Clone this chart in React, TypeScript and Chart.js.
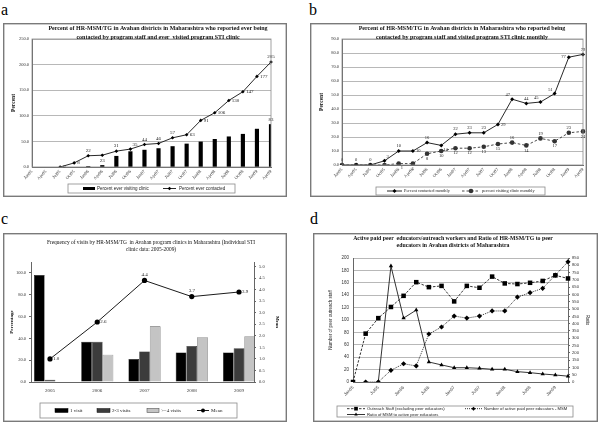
import React, { useEffect, useRef } from "react";
import { Chart, registerables } from "chart.js";

Chart.register(...registerables);

const SERIF = '"Liberation Serif", "Times New Roman", serif';
const SANS = '"Liberation Sans", Arial, sans-serif';

// ---------------- shared categories ----------------
const quarterLabels = ["Jan05", "Apr05", "Jul05", "Oct05", "Jan06", "Apr06", "Jul06", "Oct06", "Jan07", "Apr07", "Jul07", "Oct07", "Jan08", "Apr08", "Jul08", "Oct08", "Jan09", "Apr09"];

// ---------------- panel a ----------------
const aTitle = ["Percent of HR-MSM/TG in Avahan districts in Maharashtra who reported ever being", "contacted by program staff and ever  visited program STI clinic"];
const aVisitedLabel = "Percent ever visiting clinic";
const aContactedLabel = "Percent ever contacted";
const aVisited = [null, null, null, null, 1, 3, 21, 30, 33, 36, 40, 45, 49, 54, 59, 64, 74, 83];
const aContacted = [null, null, 0, 8, 22, 23, 31, 35, 44, 46, 57, 63, 91, 106, 130, 147, 177, 205];
const aAxisTitle = "Percent";
const aContactedPlace = ["", "", "r", "r", "a", "b", "a", "ar", "a", "a", "a", "r", "r", "r", "r", "r", "r", "a"];
const aVisitedPlace = ["", "", "", "", "", "", "", "", "", "", "", "", "", "", "", "", "", "a"];

// ---------------- panel b ----------------
const bTitle = ["Percent of HR-MSM/TG in Avahan districts in Maharashtra who reported being", "contacted by program staff and visited program STI clinic monthly"];
const bContactedLabel = "Percent contacted monthly";
const bVisitingLabel = "percent visiting clinic monthly";
const bContacted = [0, 0, 0, 3, 10, 10, 16, 14, 22, 23, 23, 29, 47, 44, 45, 51, 77, 79];
const bVisiting = [0, 0, 0, 0, 1, 1, 8, 10, 12, 12, 13, 15, 16, 14, 19, 17, 23, 24];
const bAxisTitle = "Percent";
const bContactedPlace = ["a", "a", "a", "ar", "a", "r", "a", "br", "a", "a", "a", "r", "al", "a", "al", "al", "l", "a"];
const bVisitingPlace = ["", "", "", "", "br", "b", "b", "b", "b", "b", "b", "b", "a", "b", "a", "b", "a", "b"];

// ---------------- panel c ----------------
const cTitle = ["Frequency of visits by HR-MSM/TG  in Avahan program clinics in Maharashtra (Individual STI", "clinic data: 2005-2009)"];
const cYears = ["2005", "2006", "2007", "2008", "2009"];
const cOneVisit = [98, 37, 21, 27, 27];
const cTwoThree = [2, 37, 28, 33, 31];
const cFourPlus = [0, 25, 51, 41, 42];
const cMean = [1.0, 2.6, 4.4, 3.7, 3.9];
const cSeriesLabels = ["1 visit", "2-3 visits", ">=4 visits", "Mean"];
const cLeftTicks = [0, 20, 40, 60, 80, 100];
const cRightTicks = [0, 0.5, 1, 1.5, 2, 2.5, 3, 3.5, 4, 4.5, 5];
const cLeftTitle = "Percentage";
const cRightTitle = "Mean";
const cMeanPlace = ["r", "r", "a", "a", "r"];

// ---------------- panel d ----------------
const dTitle = ["Active paid peer  educators/outreach workers and Ratio of HR-MSM/TG to peer", "educators in Avahan districts of Maharashtra"];
const dOutreach = [0, 78, 103, 121, 139, 161, 153, 155, 130, 155, 152, 170, 159, 158, 160, 163, 172, 167];
const dPeer = [null, 0, 0, 80, 125, 110, 329, 377, 452, 438, 452, 487, 487, 582, 612, 642, 733, 824];
const dRatio = [null, null, 0, 795, 438, 493, 137, 117, 98, 98, 94, 87, 87, 71, 64, 55, 48, 40];
const dSeriesLabels = ["Outreach Staff (excluding peer educators)", "Number of active paid peer educators - MSM", "Ratio of MSM to active peer educators"];
const dLeftTitle = "Number of peer outreach staff";
const dRightTitle = "Ratio";

// ---------------- helpers ----------------
const fit = (size: number) => (s: any) => {
  if (s.isHorizontal()) s.height = size;
  else s.width = size;
  s.paddingLeft = 0;
  s.paddingRight = 0;
  s.paddingTop = 0;
  s.paddingBottom = 0;
};

function drawMarker(ctx: CanvasRenderingContext2D, style: string, x: number, y: number, r: number, fill: string) {
  ctx.beginPath();
  if (style === "rect") {
    const s = r * Math.SQRT1_2;
    ctx.rect(x - s, y - s, 2 * s, 2 * s);
  } else if (style === "rectRot") {
    ctx.moveTo(x, y - r);
    ctx.lineTo(x + r, y);
    ctx.lineTo(x, y + r);
    ctx.lineTo(x - r, y);
    ctx.closePath();
  } else if (style === "triangle") {
    ctx.moveTo(x, y - r);
    ctx.lineTo(x + r * 0.866, y + r * 0.5);
    ctx.lineTo(x - r * 0.866, y + r * 0.5);
    ctx.closePath();
  } else {
    ctx.arc(x, y, r, 0, Math.PI * 2);
  }
  ctx.fillStyle = fill;
  ctx.fill();
}

function makeDecor(o: any) {
  return {
    id: "decor",
    afterDatasetsDraw(chart: any) {
      const ctx = chart.ctx;
      (o.labels || []).forEach((l: any) => {
        const meta = chart.getDatasetMeta(l.ds);
        const data = chart.data.datasets[l.ds].data;
        ctx.save();
        ctx.font = l.font;
        ctx.fillStyle = "#222";
        ctx.textBaseline = "middle";
        meta.data.forEach((el: any, i: number) => {
          const p = l.place[i];
          if (!p) return;
          const raw = data[i];
          const v = raw !== null && typeof raw === "object" ? raw.y : raw;
          if (v === null || v === undefined) return;
          const t = l.decimals ? Number(v).toFixed(l.decimals) : String(v);
          let dx = 0, dy = 0, align = "center";
          const d = l.dist || 5;
          switch (p) {
            case "a": dy = -d; break;
            case "b": dy = d; break;
            case "r": dx = 3; align = "left"; break;
            case "l": dx = -3; align = "right"; break;
            case "ar": dx = 2; dy = -d + 1; align = "left"; break;
            case "al": dx = -2; dy = -d + 1; align = "right"; break;
            case "br": dx = 2; dy = d - 1; align = "left"; break;
            case "bl": dx = -2; dy = d - 1; align = "right"; break;
          }
          ctx.textAlign = align;
          ctx.fillText(t, el.x + dx, el.y + dy);
        });
        ctx.restore();
      });
    },
    afterDraw(chart: any) {
      const ctx = chart.ctx;
      ctx.save();
      if (o.frame) {
        const a = chart.chartArea;
        ctx.strokeStyle = "#8a8a8a";
        ctx.lineWidth = 0.8;
        ctx.strokeRect(a.left, a.top, a.right - a.left, a.bottom - a.top);
      }
      if (o.border) {
        ctx.strokeStyle = "#7a7a7a";
        ctx.lineWidth = 1.4;
        ctx.strokeRect(0.7, 0.7, chart.width - 1.4, chart.height - 1.4);
      }
      if (o.title) {
        ctx.font = o.title.font;
        ctx.fillStyle = "#111";
        ctx.textAlign = "center";
        ctx.textBaseline = "middle";
        o.title.lines.forEach((t: string, i: number) => ctx.fillText(t, o.title.x, o.title.y[i]));
      }
      if (o.legend) {
        const lg = o.legend;
        const [bx, by, bw, bh] = lg.box;
        ctx.strokeStyle = "#8a8a8a";
        ctx.lineWidth = 0.8;
        ctx.strokeRect(bx, by, bw, bh);
        lg.items.forEach((it: any) => {
          const ds = chart.data.datasets[it.ds];
          if (it.kind === "rect") {
            ctx.fillStyle = ds.backgroundColor;
            ctx.fillRect(it.x, it.y - it.h / 2, it.w, it.h);
            if (ds.borderWidth) {
              ctx.strokeStyle = ds.borderColor;
              ctx.lineWidth = ds.borderWidth;
              ctx.strokeRect(it.x, it.y - it.h / 2, it.w, it.h);
            }
          } else {
            ctx.strokeStyle = ds.borderColor;
            ctx.lineWidth = ds.borderWidth;
            ctx.setLineDash(ds.borderDash || []);
            ctx.beginPath();
            ctx.moveTo(it.x, it.y);
            ctx.lineTo(it.x + it.w, it.y);
            ctx.stroke();
            ctx.setLineDash([]);
            drawMarker(ctx, ds.pointStyle, it.x + it.w / 2, it.y, it.r || ds.pointRadius, ds.pointBackgroundColor);
          }
          ctx.font = lg.font;
          ctx.fillStyle = "#222";
          ctx.textAlign = "left";
          ctx.textBaseline = "middle";
          ctx.fillText(ds.label, it.tx, it.y);
        });
      }
      ctx.restore();
    },
  };
}

const tickFont = (family: string, size: number) => ({ family, size });

// ---------------- panel a config ----------------
function makeA() {
  return {
    type: "bar",
    data: {
      labels: quarterLabels,
      datasets: [
        { type: "line", label: aContactedLabel, data: aContacted, borderColor: "#111", borderWidth: 0.9, pointStyle: "rectRot", pointRadius: 1.8, pointBackgroundColor: "#000", pointBorderColor: "#000", pointBorderWidth: 0, order: 0 },
        { type: "bar", label: aVisitedLabel, data: aVisited, backgroundColor: "#000", barThickness: 3.5, order: 1 },
      ],
    },
    options: {
      responsive: false,
      animation: false,
      events: [],
      layout: { padding: { left: 0, right: 16, top: 16, bottom: 0 } },
      plugins: { legend: { display: false }, tooltip: { enabled: false } },
      scales: {
        x: {
          type: "category", offset: false,
          grid: { display: false, drawTicks: false, offset: false },
          border: { display: true, color: "#666" },
          ticks: { autoSkip: false, minRotation: 45, maxRotation: 45, padding: 2, color: "#333", font: tickFont(SERIF, 4.5) },
          afterFit: fit(30),
        },
        y: {
          min: 0, max: 250,
          ticks: { stepSize: 50, autoSkip: false, padding: 3, color: "#333", font: tickFont(SERIF, 4.5), callback: (v: any) => Number(v).toFixed(1) },
          grid: { color: "#a6a6a6", lineWidth: 0.8, drawTicks: false },
          border: { display: true, color: "#666" },
          title: { display: true, text: aAxisTitle, color: "#111", font: { family: SERIF, size: 5.5, weight: "bold" }, padding: { top: 7, bottom: 0 } },
          afterFit: fit(29),
        },
      },
    },
    plugins: [makeDecor({
      border: true, frame: true,
      title: { lines: aTitle, x: 155, y: [5.5, 14], font: `bold 6px ${SERIF}` },
      legend: { box: [65, 161, 167, 9], font: `4.5px ${SANS}`, items: [
        { ds: 1, kind: "rect", x: 80, y: 165.5, w: 12, h: 3, tx: 94 },
        { ds: 0, kind: "line", x: 160, y: 165.5, w: 13, tx: 176 },
      ] },
      labels: [
        { ds: 0, place: aContactedPlace, font: `5px ${SERIF}` },
        { ds: 1, place: aVisitedPlace, font: `5px ${SERIF}` },
      ],
    })],
  };
}

// ---------------- panel b config ----------------
function makeB() {
  return {
    type: "line",
    data: {
      labels: quarterLabels,
      datasets: [
        { label: bContactedLabel, data: bContacted, borderColor: "#111", borderWidth: 0.9, pointStyle: "rectRot", pointRadius: 2, pointBackgroundColor: "#000", pointBorderWidth: 0 },
        { label: bVisitingLabel, data: bVisiting, borderColor: "#333", borderWidth: 0.9, borderDash: [2.5, 2], pointStyle: "circle", pointRadius: 2.3, pointBackgroundColor: "#333", pointBorderWidth: 0 },
      ],
    },
    options: {
      responsive: false,
      animation: false,
      events: [],
      layout: { padding: { left: 0, right: 3, top: 16, bottom: 0 } },
      plugins: { legend: { display: false }, tooltip: { enabled: false } },
      scales: {
        x: {
          type: "category", offset: false,
          grid: { display: false, drawTicks: false },
          border: { display: true, color: "#666" },
          ticks: { autoSkip: false, minRotation: 45, maxRotation: 45, padding: 2, color: "#333", font: tickFont(SERIF, 4.5) },
          afterFit: fit(32),
        },
        y: {
          min: 0, max: 90,
          ticks: { stepSize: 10, autoSkip: false, padding: 3, color: "#333", font: tickFont(SERIF, 4.5), callback: (v: any) => Number(v).toFixed(1) },
          grid: { color: "#a6a6a6", lineWidth: 0.8, drawTicks: false },
          border: { display: true, color: "#666" },
          title: { display: true, text: bAxisTitle, color: "#111", font: { family: SERIF, size: 5.5, weight: "bold" }, padding: { top: 8, bottom: 0 } },
          afterFit: fit(32),
        },
      },
    },
    plugins: [makeDecor({
      border: true, frame: true,
      title: { lines: bTitle, x: 152, y: [5.5, 14], font: `bold 6px ${SERIF}` },
      legend: { box: [66, 164, 169, 8], font: `4.3px ${SERIF}`, items: [
        { ds: 0, kind: "line", x: 77, y: 168, w: 15, tx: 94 },
        { ds: 1, kind: "line", x: 152, y: 168, w: 18, tx: 172 },
      ] },
      labels: [
        { ds: 0, place: bContactedPlace, font: `4.5px ${SERIF}` },
        { ds: 1, place: bVisitingPlace, font: `4.5px ${SERIF}` },
      ],
    })],
  };
}

// ---------------- panel c config ----------------
function makeC() {
  const pts = (arr: number[]) => arr.map((v, i) => ({ x: i, y: v }));
  return {
    type: "bar",
    data: {
      datasets: [
        { type: "bar", label: cSeriesLabels[0], data: pts(cOneVisit), backgroundColor: "#000", borderColor: "#000", borderWidth: 0.5, categoryPercentage: 0.68, barPercentage: 1, order: 1 },
        { type: "bar", label: cSeriesLabels[1], data: pts(cTwoThree), backgroundColor: "#3c3c3c", borderColor: "#111", borderWidth: 0.5, categoryPercentage: 0.68, barPercentage: 1, order: 1 },
        { type: "bar", label: cSeriesLabels[2], data: pts(cFourPlus), backgroundColor: "#c4c4c4", borderColor: "#555", borderWidth: 0.6, categoryPercentage: 0.68, barPercentage: 1, order: 1 },
        { type: "line", label: cSeriesLabels[3], data: pts(cMean), yAxisID: "y1", borderColor: "#000", borderWidth: 0.9, pointStyle: "circle", pointRadius: 2.6, pointBackgroundColor: "#000", pointBorderWidth: 0, order: 0 },
      ],
    },
    options: {
      responsive: false,
      animation: false,
      events: [],
      layout: { padding: { left: 0, right: 0, top: 29, bottom: 0 } },
      plugins: { legend: { display: false }, tooltip: { enabled: false } },
      scales: {
        x: {
          type: "linear", min: -0.402, max: 4.317, offset: false,
          afterBuildTicks: (s: any) => { s.ticks = cYears.map((_, i) => ({ value: i })); },
          grid: { display: false, drawTicks: false },
          border: { display: true, color: "#666" },
          ticks: { autoSkip: false, minRotation: 0, maxRotation: 0, padding: 6, color: "#333", font: tickFont(SERIF, 5), callback: (v: any) => cYears[v] ?? "" },
          afterFit: fit(40),
        },
        y: {
          min: 0, max: 110,
          afterBuildTicks: (s: any) => { s.ticks = cLeftTicks.map((v) => ({ value: v })); },
          ticks: { autoSkip: false, padding: 3, color: "#333", font: tickFont(SERIF, 4.5), callback: (v: any) => Number(v).toFixed(1) },
          grid: { drawOnChartArea: false, drawTicks: true, tickLength: 2, color: "#666" },
          border: { display: true, color: "#666" },
          title: { display: true, text: cLeftTitle, color: "#111", font: { family: SERIF, size: 5, weight: "bold" }, padding: { top: 6, bottom: 0 } },
          afterFit: fit(28),
        },
        y1: {
          position: "right", min: 0, max: 5.2,
          afterBuildTicks: (s: any) => { s.ticks = cRightTicks.map((v) => ({ value: v })); },
          ticks: { autoSkip: false, padding: 3, color: "#333", font: tickFont(SERIF, 4.5), callback: (v: any) => Number(v).toFixed(1) },
          grid: { drawOnChartArea: false, drawTicks: true, tickLength: 2, color: "#666" },
          border: { display: true, color: "#666" },
          title: { display: true, text: cRightTitle, color: "#111", font: { family: SERIF, size: 5, weight: "bold" }, padding: { top: 7, bottom: 0 } },
          afterFit: fit(33),
        },
      },
    },
    plugins: [makeDecor({
      border: true,
      title: { lines: cTitle, x: 148, y: [10, 16.5], font: `5.4px ${SERIF}` },
      legend: { box: [37, 170, 197, 15], font: `5px ${SERIF}`, items: [
        { ds: 0, kind: "rect", x: 52, y: 177.5, w: 13, h: 4, tx: 67 },
        { ds: 1, kind: "rect", x: 94, y: 177.5, w: 13, h: 4, tx: 109 },
        { ds: 2, kind: "rect", x: 144, y: 177.5, w: 12, h: 4, tx: 158 },
        { ds: 3, kind: "line", x: 194, y: 177.5, w: 12, tx: 208, r: 2 },
      ] },
      labels: [{ ds: 3, place: cMeanPlace, font: `5px ${SERIF}`, decimals: 1, dist: 6 }],
    })],
  };
}

// ---------------- panel d config ----------------
function makeD() {
  return {
    type: "line",
    data: {
      labels: quarterLabels,
      datasets: [
        { label: dSeriesLabels[0], data: dOutreach, yAxisID: "y", borderColor: "#000", borderWidth: 0.8, borderDash: [2.5, 1.5], pointStyle: "rect", pointRadius: 3.2, pointBackgroundColor: "#000", pointBorderWidth: 0 },
        { label: dSeriesLabels[1], data: dPeer, yAxisID: "y1", borderColor: "#000", borderWidth: 0.8, borderDash: [1, 1], pointStyle: "rectRot", pointRadius: 2.6, pointBackgroundColor: "#000", pointBorderWidth: 0 },
        { label: dSeriesLabels[2], data: dRatio, yAxisID: "y1", borderColor: "#000", borderWidth: 0.8, pointStyle: "triangle", pointRadius: 2.5, pointBackgroundColor: "#000", pointBorderWidth: 0 },
      ],
    },
    options: {
      responsive: false,
      animation: false,
      events: [],
      layout: { padding: { left: 0, right: 0, top: 25, bottom: 0 } },
      plugins: { legend: { display: false }, tooltip: { enabled: false } },
      scales: {
        x: {
          type: "category", offset: false,
          grid: { display: false, drawTicks: false },
          border: { display: true, color: "#666" },
          ticks: {
            autoSkip: false, minRotation: 45, maxRotation: 45, padding: 3, color: "#333", font: tickFont(SANS, 4.3),
            callback: function (this: any, v: any, i: number) { return i % 2 === 0 ? this.getLabelForValue(v) : ""; },
          },
          afterFit: fit(40),
        },
        y: {
          min: 0, max: 200,
          ticks: { stepSize: 20, autoSkip: false, padding: 4, color: "#333", font: tickFont(SANS, 4.5) },
          grid: { color: "#9a9a9a", lineWidth: 0.7, drawTicks: false },
          border: { display: true, color: "#666" },
          title: { display: true, text: dLeftTitle, color: "#222", font: { family: SANS, size: 4.5 }, padding: { top: 15, bottom: 0 } },
          afterFit: fit(40),
        },
        y1: {
          position: "right", min: 0, max: 850,
          ticks: { stepSize: 50, autoSkip: false, padding: 2, color: "#333", font: tickFont(SANS, 4.2) },
          grid: { drawOnChartArea: false, drawTicks: true, tickLength: 2, color: "#666" },
          border: { display: true, color: "#666" },
          title: { display: true, text: dRightTitle, color: "#222", font: { family: SANS, size: 4.5 }, padding: { top: 8, bottom: 0 } },
          afterFit: fit(30),
        },
      },
    },
    plugins: [makeDecor({
      border: true,
      title: { lines: dTitle, x: 140, y: [6, 13], font: `bold 5.8px ${SERIF}` },
      legend: { box: [24, 173, 236, 11], font: `4.2px ${SANS}`, items: [
        { ds: 0, kind: "line", x: 34, y: 175.7, w: 18, tx: 54, r: 2.6 },
        { ds: 1, kind: "line", x: 152, y: 175.7, w: 17, tx: 171, r: 2 },
        { ds: 2, kind: "line", x: 34, y: 181.5, w: 18, tx: 54, r: 2 },
      ] },
    })],
  };
}

// ---------------- components ----------------
function ChartCanvas({ make, left, top, width, height }: { make: () => any; left: number; top: number; width: number; height: number }) {
  const ref = useRef<HTMLCanvasElement>(null);
  useEffect(() => {
    const chart = new Chart(ref.current as HTMLCanvasElement, make());
    return () => chart.destroy();
  }, []);
  return <canvas ref={ref} width={width} height={height} style={{ position: "absolute", left, top, width, height }} />;
}

const letter = (left: number, top: number): React.CSSProperties => ({
  position: "absolute", left, top, fontFamily: SERIF, fontSize: 16, lineHeight: "16px", color: "#000",
});

export default function App() {
  return (
    <div style={{ position: "fixed", left: 0, top: 0, width: 600, height: 424, background: "#fff", overflow: "hidden" }}>
      <div style={letter(1, 1.6)}>a</div>
      <div style={letter(309, 1.6)}>b</div>
      <div style={letter(1, 210.6)}>c</div>
      <div style={letter(310, 210.6)}>d</div>
      <ChartCanvas make={makeA} left={3} top={23} width={284} height={174} />
      <ChartCanvas make={makeB} left={310} top={23} width={277} height={174} />
      <ChartCanvas make={makeC} left={3} top={233} width={284} height={189} />
      <ChartCanvas make={makeD} left={313} top={233} width={285} height={189} />
    </div>
  );
}
